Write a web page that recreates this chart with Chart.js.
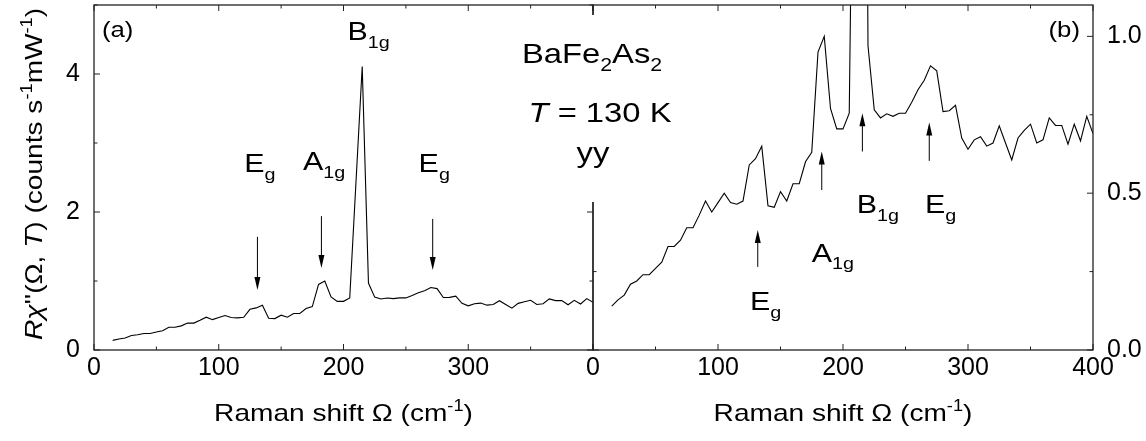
<!DOCTYPE html>
<html>
<head>
<meta charset="utf-8">
<script src="https://cdn.jsdelivr.net/npm/chart.js@4.4.0/dist/chart.umd.min.js"></script>
<style>
  html, body { margin: 0; padding: 0; background: #fff; }
  #wrap { position: relative; width: 1146px; height: 441px; overflow: hidden; background: #fff; }
  canvas { position: absolute; top: 0; }
  #chartA { left: 0; z-index: 2; }
  #chartB { left: 560px; z-index: 1; }
</style>
</head>
<body>
<div id="wrap">
  <canvas id="chartB" width="586" height="441"></canvas>
  <canvas id="chartA" width="700" height="441"></canvas>
</div>
<script>
// Raman shift (cm-1) and R chi'' (counts s-1 mW-1)
const omega = [15, 20, 25, 30, 35, 40, 45, 50, 55, 60, 65, 70, 75, 80, 85, 90, 95, 100,
  105, 110, 115, 120, 125, 130, 135, 140, 145, 150, 155, 160, 165, 170, 175, 180, 185, 190,
  195, 200, 205, 215, 220, 225, 230, 235, 240, 245, 250, 255, 260, 265, 270, 275, 280, 285,
  290, 295, 300, 305, 310, 315, 320, 325, 330, 335, 340, 345, 350, 355, 360, 365, 370, 375,
  380, 385, 390, 395, 400];
const chi = [0.14, 0.16, 0.175, 0.21, 0.22, 0.24, 0.24, 0.26, 0.28, 0.33, 0.33, 0.35, 0.39, 0.39,
  0.43, 0.475, 0.44, 0.47, 0.50, 0.47, 0.465, 0.475, 0.59, 0.61, 0.65, 0.46, 0.455, 0.505, 0.475,
  0.53, 0.53, 0.60, 0.63, 0.95, 1.00, 0.77, 0.705, 0.705, 0.755, 4.11, 0.97, 0.766, 0.74, 0.753,
  0.745, 0.755, 0.755, 0.79, 0.83, 0.86, 0.906, 0.89, 0.76, 0.763, 0.78, 0.676, 0.64, 0.67, 0.68,
  0.65, 0.66, 0.715, 0.66, 0.606, 0.676, 0.70, 0.72, 0.66, 0.67, 0.74, 0.716, 0.716, 0.656, 0.72,
  0.667, 0.745, 0.69];

const xTicksA = [0, 100, 200, 300];
const yTicksA = [0, 2, 4];
const xTicksB = [0, 100, 200, 300, 400];
const yTicksB = [0, 0.5, 1.0];

const FONT = "'Liberation Sans', Arial, sans-serif";
const STRETCH = 1.17;

// draws text with sub/superscripts, parts = [[text, style]]
function richText(ctx, parts, x, y, size, align) {
  const fontFor = st => (st.includes('it') ? 'italic ' : '') +
    ((st.includes('sub') || st.includes('sup')) ? size * 0.65 : size) + 'px ' + FONT;
  let w = 0;
  const widths = parts.map(p => { ctx.font = fontFor(p[1]); const m = ctx.measureText(p[0]).width; w += m; return m; });
  ctx.save();
  ctx.translate(x, y);
  ctx.scale(STRETCH, 1);
  ctx.textBaseline = 'alphabetic';
  ctx.textAlign = 'left';
  let cx = align === 'center' ? -w / 2 : align === 'right' ? -w : 0;
  parts.forEach((p, i) => {
    ctx.font = fontFor(p[1]);
    const dy = p[1].includes('sub') ? size * 0.3 : p[1].includes('sup') ? -size * 0.42 : 0;
    ctx.fillText(p[0], cx, dy);
    cx += widths[i];
  });
  ctx.restore();
}

const xTitle = [['Raman shift \u03A9 (cm', ''], ['-1', 'sup'], [')', '']];

function panelPlugin(cfg) {
  return {
    id: 'panel',
    afterDraw(chart) {
      const ctx = chart.ctx, ca = chart.chartArea, xs = chart.scales.x, ys = chart.scales.y;
      const major = (v, step) => Math.abs(v / step - Math.round(v / step)) < 1e-6;
      ctx.save();
      ctx.strokeStyle = '#222';
      ctx.fillStyle = '#000';
      ctx.lineWidth = 1.3;
      ctx.strokeRect(ca.left, ca.top, ca.right - ca.left, ca.bottom - ca.top);
      ctx.lineWidth = 1;
      ctx.beginPath();
      for (let v = xs.min; v <= xs.max + 1e-9; v += cfg.xMinor) {
        const p = xs.getPixelForValue(v), len = major(v, cfg.xMajor) ? 6 : 3.5;
        ctx.moveTo(p, ca.bottom); ctx.lineTo(p, ca.bottom - len);
        ctx.moveTo(p, ca.top); ctx.lineTo(p, ca.top + len);
      }
      for (let v = ys.min; v <= ys.max + 1e-9; v += cfg.yMinor) {
        const p = ys.getPixelForValue(v), len = major(v, cfg.yMajor) ? 6 : 3.5;
        ctx.moveTo(ca.left, p); ctx.lineTo(ca.left + len, p);
        ctx.moveTo(ca.right, p); ctx.lineTo(ca.right - len, p);
      }
      ctx.stroke();

      ctx.strokeStyle = '#000';
      cfg.arrows.forEach(a => {
        const x = xs.getPixelForValue(a.x), y0 = ys.getPixelForValue(a.from), y1 = ys.getPixelForValue(a.to);
        const dir = Math.sign(y1 - y0);
        ctx.beginPath(); ctx.moveTo(x, y0); ctx.lineTo(x, y1 - dir * 10); ctx.stroke();
        ctx.beginPath(); ctx.moveTo(x, y1); ctx.lineTo(x - 3, y1 - dir * 13); ctx.lineTo(x + 3, y1 - dir * 13);
        ctx.closePath(); ctx.fill();
      });
      cfg.labels.forEach(l => richText(ctx, l.parts, xs.getPixelForValue(l.x), ys.getPixelForValue(l.y), l.size || 26, l.align || 'left'));
      richText(ctx, xTitle, (ca.left + ca.right) / 2, 421, 24, 'center');
      if (cfg.extra) cfg.extra(ctx, chart);
      ctx.restore();
    }
  };
}

const Eg = [['E', ''], ['g', 'sub']];
const A1g = [['A', ''], ['1g', 'sub']];
const B1g = [['B', ''], ['1g', 'sub']];

function drawCentre(ctx) {
  ctx.fillStyle = '#fff';
  ctx.fillRect(513, 15, 162, 187);
  ctx.fillStyle = '#000';
  richText(ctx, [['BaFe', ''], ['2', 'sub'], ['As', ''], ['2', 'sub']], 592, 63, 28, 'center');
  richText(ctx, [['T', 'it'], [' = 130 K', '']], 600, 122, 28, 'center');
  richText(ctx, [['yy', '']], 593, 162, 28, 'center');
  // y axis title
  ctx.save();
  ctx.translate(42, 174);
  ctx.rotate(-Math.PI / 2);
  richText(ctx, [['R', 'it'], ['\u03C7', 'it'], ["''", ''], ['(\u03A9, ', ''], ['T', 'it'], [') (counts s', ''],
    ['-1', 'sup'], ['mW', ''], ['-1', 'sup'], [')', '']], 0, 0, 24, 'center');
  ctx.restore();
}

function tickFont() { return { family: FONT, size: 25 }; }
function noPad(s) { s.paddingTop = 0; s.paddingBottom = 0; s.paddingLeft = 0; s.paddingRight = 0; }

const points = omega.map((x, i) => ({ x: x, y: chi[i] }));

new Chart(document.getElementById('chartA'), {
  type: 'line',
  data: { datasets: [{ data: points, borderColor: '#000', borderWidth: 1.1, pointRadius: 0, tension: 0, fill: false }] },
  options: {
    responsive: false, animation: false, devicePixelRatio: 1,
    layout: { padding: { top: 5, right: 107, left: 0, bottom: 0 } },
    plugins: { legend: { display: false }, tooltip: { enabled: false } },
    scales: {
      x: {
        type: 'linear', min: 0, max: 400,
        grid: { display: false }, border: { display: false },
        afterBuildTicks: s => { s.ticks = xTicksA.map(v => ({ value: v })); },
        afterFit: s => { s.height = 91; noPad(s); },
        ticks: { font: tickFont(), color: '#000', padding: -5, maxRotation: 0, autoSkip: false }
      },
      y: {
        min: 0, max: 5,
        grid: { display: false }, border: { display: false },
        afterBuildTicks: s => { s.ticks = yTicksA.map(v => ({ value: v })); },
        afterFit: s => { s.width = 94; noPad(s); },
        ticks: { font: tickFont(), color: '#000', padding: 6 }
      }
    }
  },
  plugins: [panelPlugin({
    xMajor: 100, xMinor: 50, yMajor: 2, yMinor: 1,
    arrows: [{ x: 131, from: 1.64, to: 0.87 }, { x: 182.3, from: 1.94, to: 1.19 }, { x: 271.5, from: 1.90, to: 1.16 }],
    labels: [
      { parts: [['(a)', '']], x: 6.4, y: 4.54, size: 22 },
      { parts: B1g, x: 203.2, y: 4.49 },
      { parts: Eg, x: 120.5, y: 2.58 },
      { parts: A1g, x: 167.6, y: 2.61 },
      { parts: Eg, x: 260.2, y: 2.58 }
    ],
    extra: drawCentre
  })]
});

new Chart(document.getElementById('chartB'), {
  type: 'line',
  data: { datasets: [{ data: points, borderColor: '#000', borderWidth: 1.1, pointRadius: 0, tension: 0, fill: false }] },
  options: {
    responsive: false, animation: false, devicePixelRatio: 1,
    layout: { padding: { top: 5, right: 0, left: 33, bottom: 0 } },
    plugins: { legend: { display: false }, tooltip: { enabled: false } },
    scales: {
      x: {
        type: 'linear', min: 0, max: 400,
        grid: { display: false }, border: { display: false },
        afterBuildTicks: s => { s.ticks = xTicksB.map(v => ({ value: v })); },
        afterFit: s => { s.height = 91; noPad(s); },
        ticks: { font: tickFont(), color: '#000', padding: -5, maxRotation: 0, autoSkip: false }
      },
      y: {
        position: 'right', min: 0, max: 1.1,
        grid: { display: false }, border: { display: false },
        afterBuildTicks: s => { s.ticks = yTicksB.map(v => ({ value: v })); },
        afterFit: s => { s.width = 53; noPad(s); },
        ticks: { font: tickFont(), color: '#000', padding: 6, callback: v => v.toFixed(1) }
      }
    }
  },
  plugins: [panelPlugin({
    xMajor: 100, xMinor: 50, yMajor: 0.5, yMinor: 0.25,
    arrows: [{ x: 131.8, from: 0.265, to: 0.383 }, { x: 183, from: 0.51, to: 0.633 },
      { x: 215.5, from: 0.633, to: 0.755 }, { x: 269, from: 0.603, to: 0.725 }],
    labels: [
      { parts: [['(b)', '']], x: 389.6, y: 0.999, size: 22, align: 'right' },
      { parts: Eg, x: 125.6, y: 0.128 },
      { parts: A1g, x: 175, y: 0.282 },
      { parts: B1g, x: 210.9, y: 0.437 },
      { parts: Eg, x: 265.6, y: 0.437 }
    ]
  })]
});
</script>
</body>
</html>
